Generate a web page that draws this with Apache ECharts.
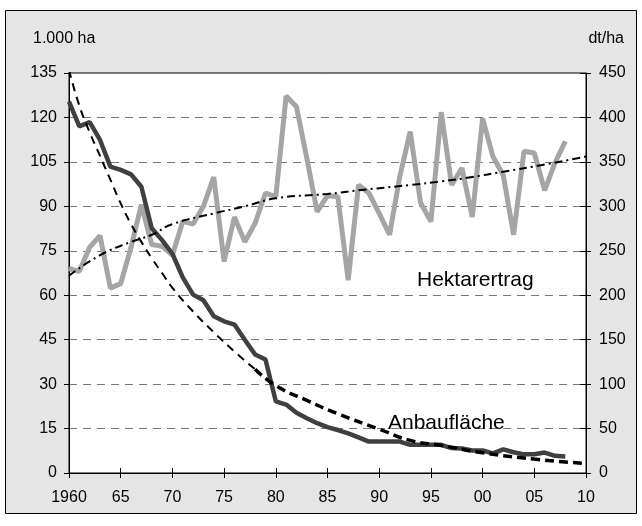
<!DOCTYPE html>
<html>
<head>
<meta charset="utf-8">
<script src="https://cdn.jsdelivr.net/npm/echarts@6/dist/echarts.min.js"></script>
<style>
  html, body { margin: 0; padding: 0; background: #fff; }
  #chart { width: 642px; height: 526px; }
</style>
</head>
<body>
<div id="chart"></div>
<script>
const years = [
  1960, 1961, 1962, 1963, 1964, 1965, 1966, 1967, 1968, 1969,
  1970, 1971, 1972, 1973, 1974, 1975, 1976, 1977, 1978, 1979,
  1980, 1981, 1982, 1983, 1984, 1985, 1986, 1987, 1988, 1989,
  1990, 1991, 1992, 1993, 1994, 1995, 1996, 1997, 1998, 1999,
  2000, 2001, 2002, 2003, 2004, 2005, 2006, 2007, 2008
]

// Anbaufläche in 1.000 ha (linke Achse)
const anbauflaeche = [
  125.3, 117, 118.4, 112.4, 103.4, 102.3, 100.8, 96.6, 82.6, 78.6,
  74, 66, 60.2, 58.3, 52.9, 51.2, 50.1, 45, 40, 38.3,
  24.2, 23.1, 20.3, 18.5, 16.8, 15.5, 14.5, 13.4, 12, 10.6,
  10.6, 10.6, 10.6, 9.5, 9.5, 9.5, 9.5, 8.4, 8.3, 7.6,
  7.6, 6.6, 8, 7, 6.3, 6.3, 6.9, 5.8, 5.6
]

// Hektarertrag in dt/ha (rechte Achse)
const hektarertrag = [
  230, 227, 254, 267, 208, 213, 254, 302, 257, 255,
  245, 283, 280, 300, 333, 238, 288, 260, 281, 315,
  311, 424, 412, 354, 294, 312, 311, 217, 324, 315,
  292, 268, 334, 384, 304, 283, 406, 324, 343, 288,
  399, 356, 335, 268, 362, 360, 318, 349, 373
]

// Trendlinien (Anbaufläche: oberer und unterer Abschnitt)
const anbauTrendYearsA = [1960, 1961, 1962, 1963, 1964, 1965, 1966, 1967, 1968, 1969, 1970, 1972, 1974, 1976, 1978]
const anbauTrendA = [136, 124, 115, 107, 99, 91, 84, 78, 72.5, 67.5, 62.5, 54.5, 47.5, 41, 35]
const anbauTrendYearsB = [1978, 1980, 1983, 1986, 1990, 1993, 1996, 2000, 2005, 2010]
const anbauTrendB = [35, 29.5, 24.5, 20, 14.8, 11, 9.3, 6.8, 4.7, 3.2]

const ertragTrendYears = [1960, 1963, 1966, 1968, 1970, 1974, 1977, 1980, 1985, 1988, 1993, 1996, 1999, 2002, 2006, 2010]
const ertragTrend = [222, 245, 260, 268, 280, 292, 300, 309, 314, 318, 324, 328, 333, 339, 347, 356]

const xTickLabels = ['1960', '65', '70', '75', '80', '85', '90', '95', '00', '05', '10']

const font = '"Liberation Sans", Arial, sans-serif'
const pairs = (xs, ys) => xs.map((x, i) => [x, ys[i]])

const chart = echarts.init(document.getElementById('chart'))

const xBase = {
  type: 'value',
  min: 1960,
  max: 2010,
  interval: 5,
  splitLine: { show: false }
}

const option = {
  animation: false,
  backgroundColor: '#fff',
  grid: {
    left: 69,
    right: 56,
    top: 73,
    bottom: 53,
    show: true,
    backgroundColor: '#fff',
    borderColor: '#000',
    borderWidth: 1
  },
  graphic: [
    {
      type: 'rect',
      z: -10,
      shape: { x: 5.5, y: 10.5, width: 631, height: 503 },
      style: { fill: '#e5e5e5', stroke: '#000', lineWidth: 1 }
    },
    {
      type: 'text', left: 33, top: 31, z: 10,
      style: { text: '1.000 ha', font: '16px ' + font, fill: '#000' }
    },
    {
      type: 'text', right: 18, top: 31, z: 10,
      style: { text: 'dt/ha', font: '16px ' + font, fill: '#000' }
    },
    {
      type: 'text', left: 417, top: 270, z: 10,
      style: { text: 'Hektarertrag', font: '21px ' + font, fill: '#000' }
    },
    {
      type: 'text', left: 388, top: 413, z: 10,
      style: { text: 'Anbaufläche', font: '21px ' + font, fill: '#000' }
    }
  ],
  xAxis: [
    Object.assign({}, xBase, {
      position: 'bottom',
      axisLine: { lineStyle: { color: '#000', width: 1 } },
      axisTick: { length: 5, lineStyle: { color: '#000' } },
      axisLabel: {
        margin: 17,
        color: '#000',
        fontFamily: font,
        fontSize: 16,
        formatter: (v) => xTickLabels[Math.round((v - 1960) / 5)]
      }
    }),
    Object.assign({}, xBase, {
      position: 'bottom',
      axisLine: { show: false },
      axisTick: { inside: true, length: 5, lineStyle: { color: '#000' } },
      axisLabel: { show: false }
    })
  ],
  yAxis: [
    {
      type: 'value',
      position: 'left',
      min: 0,
      max: 135,
      interval: 15,
      axisLine: { show: true, lineStyle: { color: '#000' } },
      axisTick: { show: true, length: 5, lineStyle: { color: '#000' } },
      axisLabel: { margin: 12, color: '#000', fontFamily: font, fontSize: 16 },
      splitLine: { lineStyle: { color: '#7a7a7a', type: [8, 6], width: 1 } }
    },
    {
      type: 'value',
      position: 'right',
      min: 0,
      max: 450,
      interval: 50,
      axisLine: { show: true, lineStyle: { color: '#000' } },
      axisTick: { show: true, length: 5, lineStyle: { color: '#000' } },
      axisLabel: { margin: 13, color: '#000', fontFamily: font, fontSize: 16 },
      splitLine: { show: false }
    },
    {
      type: 'value',
      position: 'right',
      min: 0,
      max: 450,
      interval: 50,
      axisLine: { show: false },
      axisTick: { show: true, inside: true, length: 6, lineStyle: { color: '#000' } },
      axisLabel: { show: false },
      splitLine: { show: false }
    }
  ],
  series: [
    {
      name: 'Hektarertrag',
      type: 'line',
      yAxisIndex: 1,
      symbol: 'none',
      data: pairs(years, hektarertrag),
      lineStyle: { color: '#a5a5a5', width: 5 },
      z: 2
    },
    {
      name: 'Anbaufläche',
      type: 'line',
      yAxisIndex: 0,
      symbol: 'none',
      data: pairs(years, anbauflaeche),
      lineStyle: { color: '#404040', width: 4.5 },
      z: 3
    },
    {
      name: 'Trend Anbaufläche',
      type: 'line',
      yAxisIndex: 0,
      symbol: 'none',
      smooth: true,
      data: pairs(anbauTrendYearsA, anbauTrendA),
      lineStyle: { color: '#000', width: 2, type: [8, 6] },
      z: 4
    },
    {
      name: 'Trend Anbaufläche 2',
      type: 'line',
      yAxisIndex: 0,
      symbol: 'none',
      smooth: true,
      data: pairs(anbauTrendYearsB, anbauTrendB),
      lineStyle: { color: '#000', width: 3.5, type: [9, 5] },
      z: 4
    },
    {
      name: 'Trend Hektarertrag',
      type: 'line',
      yAxisIndex: 1,
      symbol: 'none',
      smooth: true,
      data: pairs(ertragTrendYears, ertragTrend),
      lineStyle: { color: '#000', width: 2, type: [8, 4, 2, 4] },
      z: 4
    }
  ]
}

chart.setOption(option)
</script>
</body>
</html>
